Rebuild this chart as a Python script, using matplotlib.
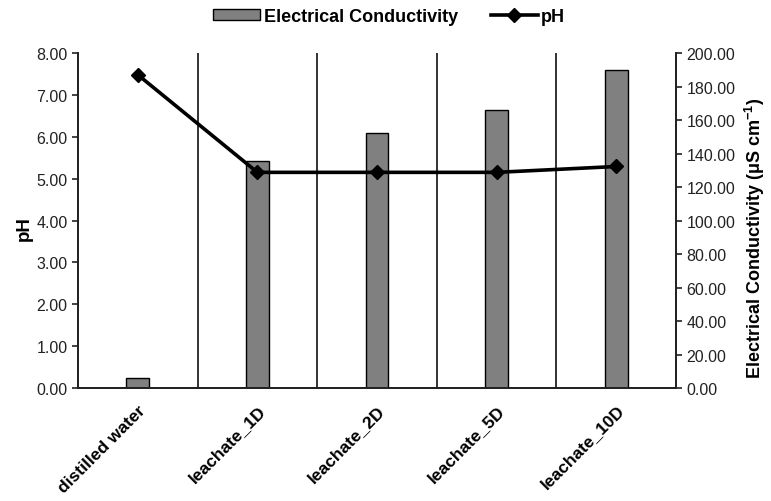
import matplotlib
matplotlib.use('Agg')
import matplotlib.pyplot as plt
import numpy as np

plt.rcParams['font.family'] = ['Liberation Sans', 'DejaVu Sans']
plt.rcParams['mathtext.fontset'] = 'custom'
plt.rcParams['mathtext.rm'] = 'Liberation Sans'
plt.rcParams['mathtext.bf'] = 'Liberation Sans:bold'

# data
samples = ['distilled water', 'leachate_1D', 'leachate_2D', 'leachate_5D', 'leachate_10D']
ec = [6.0, 135.3, 152.2, 166.0, 190.0]      # uS/cm, right axis
ph = [7.48, 5.15, 5.15, 5.15, 5.29]         # left axis

x = np.arange(len(samples))

fig = plt.figure(figsize=(7.71, 5.02), dpi=100)
ax = fig.add_axes([0.1012, 0.2251, 0.8768 - 0.1012, 0.8924 - 0.2251])
ax2 = ax.twinx()

# bars on the EC axis (right)
bars = ax2.bar(x, ec, width=0.19, color='#808080', edgecolor='black',
               linewidth=1.0, label='Electrical Conductivity')
ax2.set_ylim(0, 200)
ax2.set_yticks(np.arange(0, 201, 20))
ax2.set_yticklabels(['%.2f' % v for v in np.arange(0, 201, 20)], fontsize=11.5, color='#222222')
ax2.set_ylabel(r'Electrical Conductivity (μS cm$^{\mathbf{-1}}$)', fontsize=13,
               fontweight='bold')
ax2.yaxis.set_label_coords(1.112, 0.45)

# separators between samples
for b in x[:-1] + 0.5:
    ax.axvline(b, color='#222222', lw=1.3, zorder=1)

# pH line on the left axis, drawn above the bars
line, = ax.plot(x, ph, color='black', lw=2.6, marker='D', markersize=7, label='pH', zorder=3)
ax.set_zorder(ax2.get_zorder() + 1)
ax.patch.set_visible(False)
ax.set_ylim(0, 8)
ax.set_yticks(np.arange(0, 9, 1))
ax.set_yticklabels(['%.2f' % v for v in np.arange(0, 9, 1)], fontsize=11.5, color='#222222')
ax.set_ylabel('pH', fontsize=13.5, fontweight='bold')
ax.yaxis.set_label_coords(-0.075, 0.48)
ax.set_xlim(-0.5, len(samples) - 0.5)
ax.set_xticks(x)
ax.set_xticklabels(samples, rotation=45, ha='right', va='top', rotation_mode='anchor',
                   fontsize=12.5, fontweight='bold')
ax.tick_params(axis='x', length=0, pad=10)

for a in (ax, ax2):
    a.spines['top'].set_visible(False)
    for s in ('left', 'right', 'bottom'):
        a.spines[s].set_linewidth(1.3)
        a.spines[s].set_color('#222222')
ax.tick_params(axis='y', direction='out', length=4, width=1.2, color='#222222')
ax2.tick_params(axis='y', direction='out', length=4, width=1.2, color='#222222')

fig.legend([bars, line], ['Electrical Conductivity', 'pH'], loc='upper center',
           bbox_to_anchor=(0.505, 1.015), ncol=2, frameon=False, handlelength=2.6,
           handleheight=0.55, columnspacing=1.8, handletextpad=0.2,
           prop={'weight': 'bold', 'size': 13})

fig.savefig('out.png', dpi=100)
